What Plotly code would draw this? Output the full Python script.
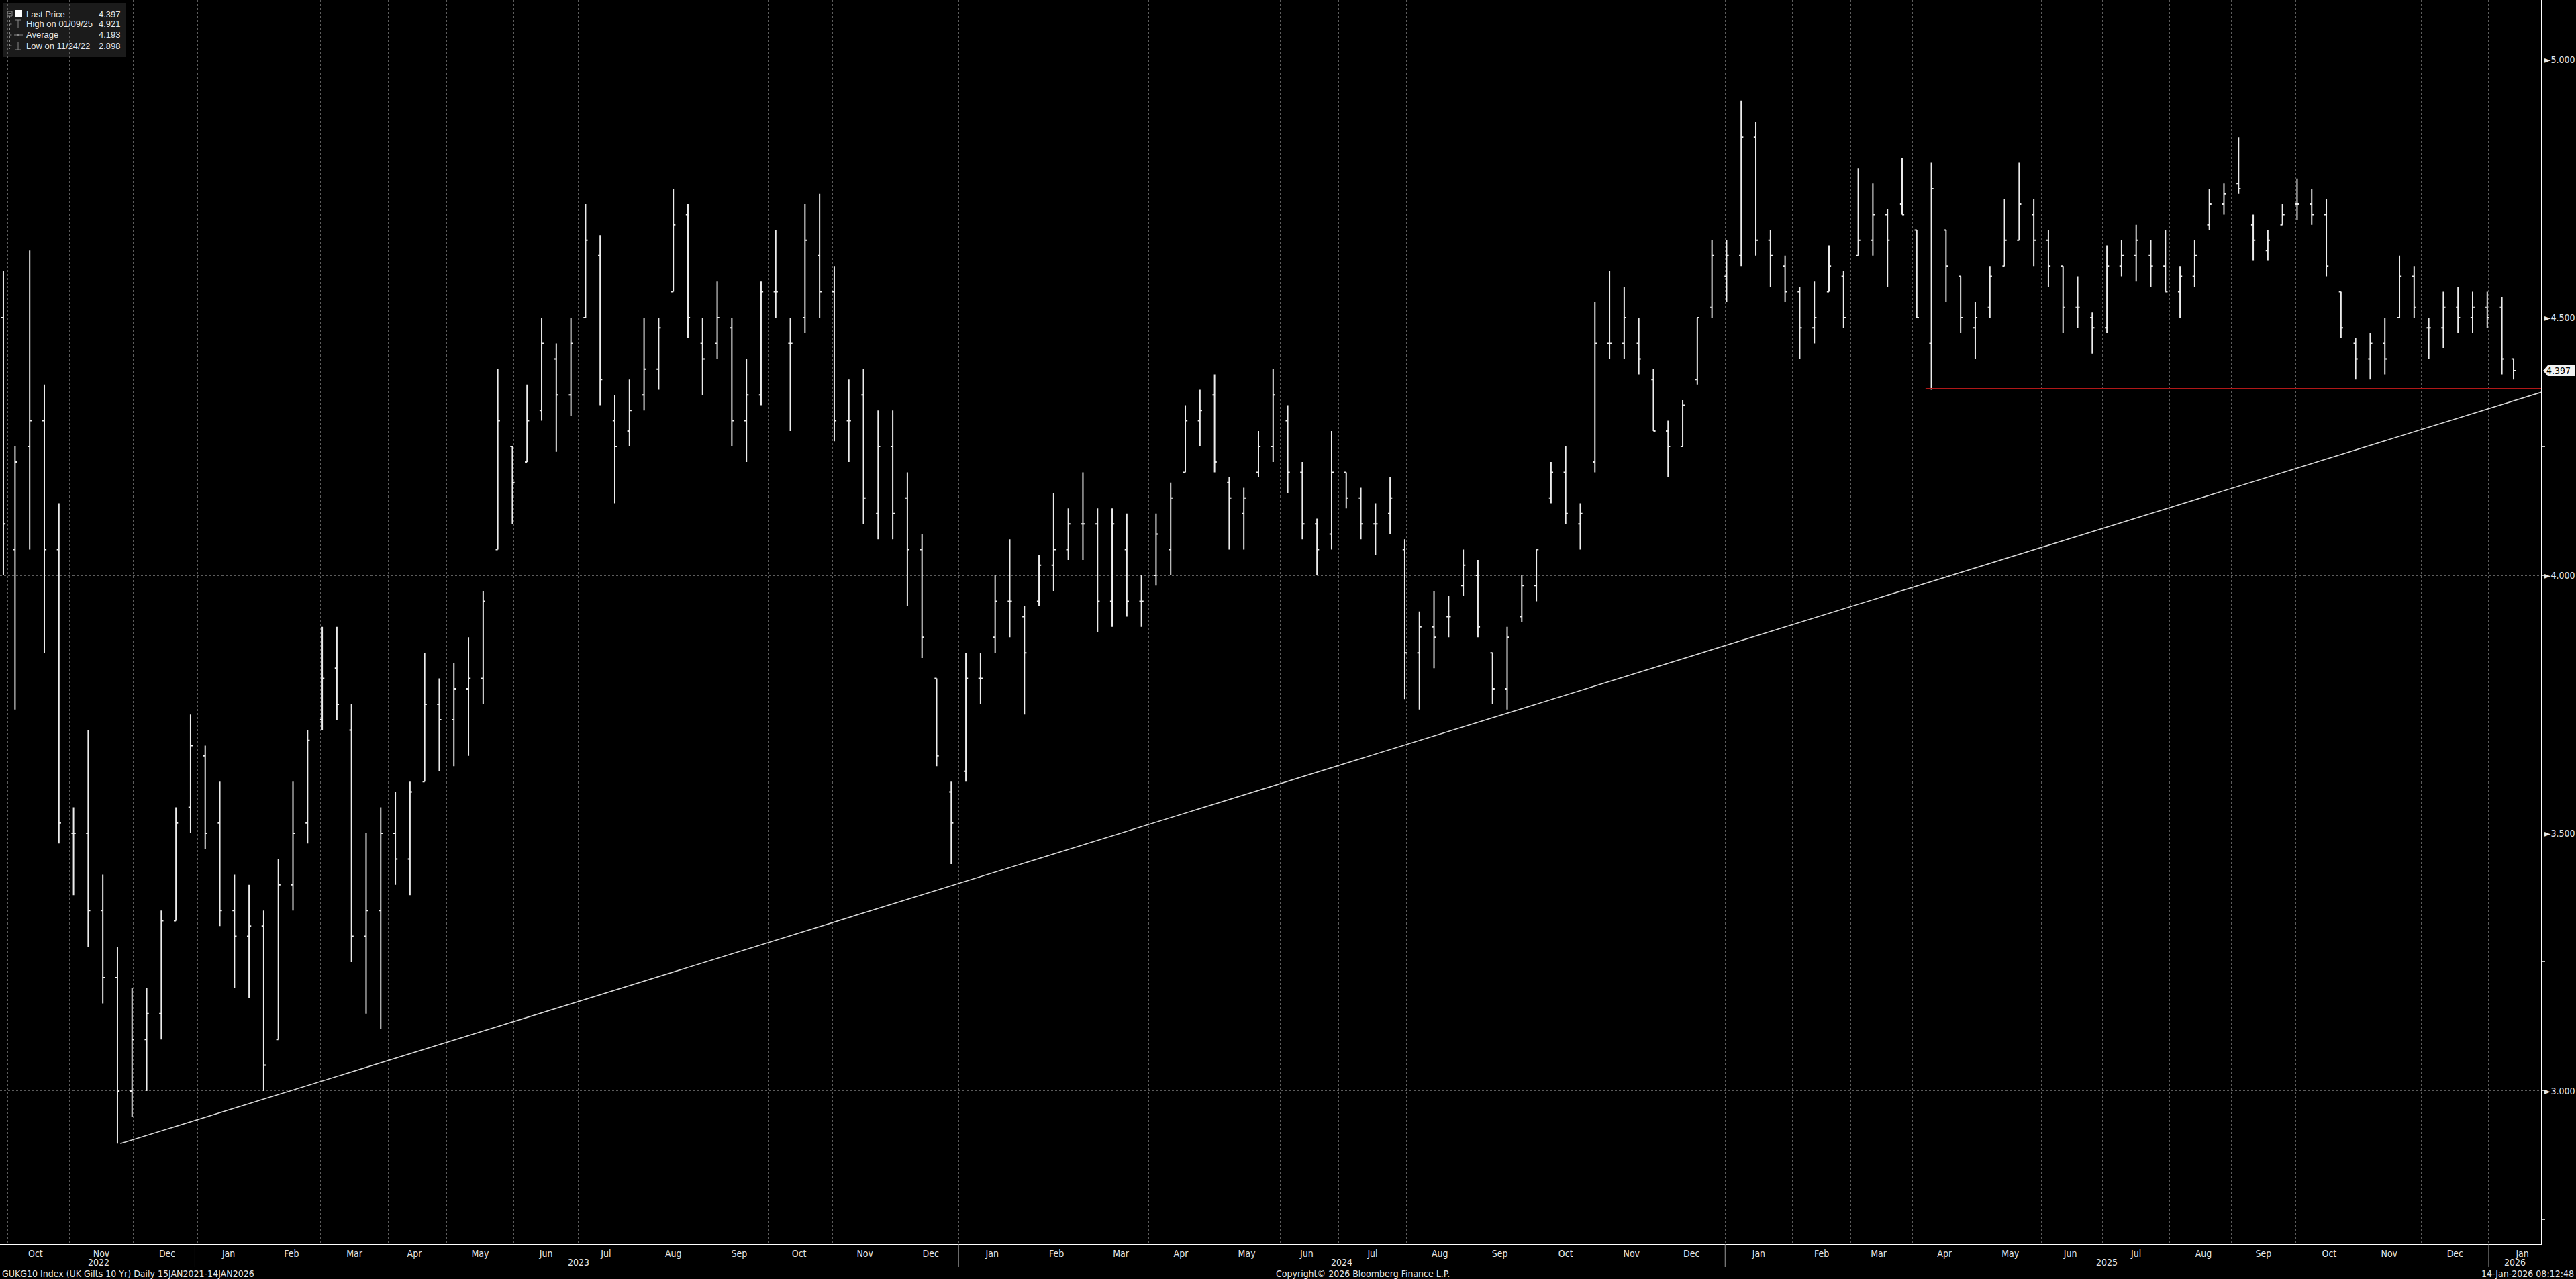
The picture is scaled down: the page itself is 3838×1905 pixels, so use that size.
import numpy as np
import pandas as pd
import plotly.graph_objects as go

# ---------------- data (weekly OHLC, GUKG10 yield %) ----------------
data_start = "2022-09-28"
data_end = "2026-01-14"
week_start = pd.date_range("2022-09-26", "2026-01-12", freq="W-MON")

opens = [4.50,4.05,4.25,4.30,4.05,3.50,3.50,3.35,3.22,3.00,
         3.10,3.15,3.33,3.55,3.65,3.52,3.35,3.30,3.32,3.10,
         3.40,3.52,3.72,3.82,3.70,3.30,3.35,3.50,3.45,3.60,
         3.75,3.72,3.78,3.80,4.05,4.25,4.22,4.32,4.42,4.35,
         4.50,4.62,4.30,4.28,4.35,4.40,4.55,4.70,4.45,4.45,
         4.48,4.30,4.35,4.55,4.45,4.50,4.62,4.55,4.30,4.35,
         4.12,4.25,4.15,4.05,3.80,3.58,3.62,3.80,3.88,3.95,
         3.92,3.95,4.02,4.05,4.10,4.10,3.95,4.05,3.95,4.00,
         4.05,4.20,4.30,4.35,4.18,4.12,4.20,4.25,4.30,4.20,
         4.10,4.08,4.20,4.15,4.10,4.12,4.05,3.85,3.90,3.92,
         3.98,4.00,3.85,3.78,3.92,3.98,4.15,4.20,4.10,4.22,
         4.45,4.45,4.45,4.38,4.28,4.25,4.38,4.52,4.58,4.62,
         4.85,4.65,4.60,4.55,4.48,4.55,4.58,4.62,4.65,4.70,
         4.72,4.67,4.45,4.67,4.58,4.48,4.52,4.60,4.65,4.70,
         4.65,4.60,4.52,4.50,4.48,4.60,4.62,4.62,4.60,4.55,
         4.58,4.68,4.72,4.76,4.68,4.63,4.68,4.72,4.72,4.70,
         4.55,4.45,4.42,4.45,4.50,4.58,4.48,4.48,4.52,4.50,
         4.52,4.52,4.42]
highs = [4.59,4.25,4.63,4.37,4.14,3.55,3.70,3.42,3.28,3.20,
         3.20,3.35,3.55,3.73,3.67,3.60,3.42,3.40,3.35,3.45,
         3.60,3.70,3.90,3.90,3.75,3.50,3.55,3.58,3.60,3.85,
         3.80,3.83,3.88,3.97,4.40,4.25,4.37,4.50,4.45,4.50,
         4.72,4.66,4.35,4.38,4.50,4.50,4.75,4.72,4.50,4.57,
         4.50,4.42,4.57,4.67,4.50,4.72,4.74,4.60,4.38,4.40,
         4.32,4.32,4.20,4.08,3.80,3.60,3.85,3.85,4.00,4.07,
         3.94,4.04,4.16,4.13,4.20,4.13,4.13,4.12,4.00,4.12,
         4.18,4.33,4.36,4.39,4.19,4.17,4.28,4.40,4.33,4.22,
         4.11,4.28,4.20,4.17,4.14,4.19,4.07,3.93,3.97,3.96,
         4.05,4.03,3.85,3.90,4.00,4.05,4.22,4.25,4.14,4.53,
         4.59,4.56,4.50,4.40,4.30,4.34,4.50,4.65,4.65,4.921,
         4.88,4.67,4.62,4.56,4.57,4.64,4.59,4.79,4.76,4.71,
         4.81,4.67,4.80,4.67,4.58,4.53,4.60,4.73,4.80,4.73,
         4.67,4.60,4.58,4.51,4.64,4.65,4.68,4.65,4.67,4.60,
         4.65,4.75,4.76,4.85,4.70,4.67,4.72,4.77,4.75,4.73,
         4.55,4.46,4.47,4.50,4.62,4.60,4.50,4.55,4.56,4.55,
         4.55,4.54,4.42]
lows = [4.00,3.74,4.05,3.85,3.48,3.38,3.28,3.17,2.898,2.95,
        3.00,3.10,3.33,3.50,3.47,3.32,3.20,3.18,3.00,3.10,
        3.35,3.48,3.70,3.72,3.25,3.15,3.12,3.40,3.38,3.60,
        3.62,3.63,3.65,3.75,4.05,4.10,4.22,4.30,4.24,4.31,
        4.50,4.33,4.14,4.25,4.32,4.36,4.55,4.46,4.35,4.42,
        4.25,4.22,4.33,4.50,4.28,4.47,4.50,4.26,4.22,4.10,
        4.07,4.07,3.94,3.84,3.63,3.44,3.60,3.75,3.85,3.88,
        3.73,3.94,3.97,4.03,4.03,3.89,3.90,3.92,3.90,3.98,
        4.00,4.20,4.25,4.20,4.05,4.05,4.19,4.22,4.16,4.07,
        4.00,4.05,4.13,4.07,4.04,4.08,3.76,3.74,3.82,3.88,
        3.96,3.88,3.75,3.74,3.91,3.95,4.14,4.10,4.05,4.20,
        4.42,4.42,4.39,4.28,4.19,4.25,4.37,4.50,4.53,4.60,
        4.62,4.56,4.53,4.42,4.45,4.55,4.48,4.62,4.62,4.56,
        4.70,4.50,4.36,4.53,4.47,4.42,4.50,4.60,4.65,4.60,
        4.56,4.47,4.48,4.43,4.47,4.58,4.57,4.56,4.55,4.50,
        4.56,4.67,4.70,4.74,4.61,4.61,4.68,4.69,4.68,4.58,
        4.46,4.38,4.38,4.39,4.50,4.50,4.42,4.44,4.47,4.47,
        4.48,4.39,4.38]
closes = [4.10,4.22,4.30,4.05,3.52,3.50,3.35,3.22,3.00,3.10,
          3.15,3.33,3.52,3.67,3.50,3.35,3.30,3.32,3.05,3.40,
          3.50,3.68,3.80,3.75,3.30,3.35,3.50,3.45,3.58,3.75,
          3.72,3.78,3.80,3.95,4.30,4.18,4.30,4.45,4.35,4.45,
          4.65,4.38,4.25,4.32,4.40,4.48,4.68,4.50,4.42,4.50,
          4.30,4.35,4.55,4.55,4.45,4.65,4.55,4.30,4.30,4.15,
          4.25,4.12,4.05,3.88,3.65,3.52,3.80,3.80,3.95,3.95,
          3.85,4.02,4.05,4.10,4.10,3.95,4.10,3.95,3.95,4.08,
          4.15,4.30,4.32,4.22,4.15,4.15,4.25,4.35,4.20,4.10,
          4.05,4.20,4.15,4.10,4.10,4.15,3.85,3.90,3.88,3.92,
          4.02,3.90,3.78,3.88,3.98,4.05,4.20,4.12,4.12,4.45,
          4.45,4.50,4.42,4.28,4.25,4.33,4.50,4.62,4.62,4.85,
          4.65,4.62,4.55,4.48,4.50,4.60,4.50,4.65,4.70,4.65,
          4.70,4.50,4.75,4.60,4.50,4.50,4.58,4.65,4.72,4.65,
          4.60,4.52,4.52,4.48,4.60,4.62,4.65,4.60,4.55,4.58,
          4.62,4.72,4.74,4.75,4.65,4.65,4.70,4.72,4.70,4.60,
          4.48,4.42,4.45,4.42,4.58,4.52,4.48,4.52,4.50,4.52,
          4.50,4.42,4.397]

# legend values
last_price = 4.397
high_label, high_value = "High on 01/09/25", 4.921
avg_value = 4.193
low_label, low_value = "Low on 11/24/22", 2.898

# trend line (from 11/24/22 low to the right edge) and support line (from 04/07/25 low)
trend_dates = ["2022-11-24 12:00", "2026-01-26 21:36"]
trend_values = [2.898, 4.355]
support_dates = ["2025-04-07 12:00", "2026-01-26 21:36"]
support_values = [4.362, 4.362]

y_ticks = [3.0, 3.5, 4.0, 4.5, 5.0]
x_range = ["2022-09-28 08:40", "2026-01-26 21:36"]
y_range = [2.7031, 5.1159]
years = [2022, 2023, 2024, 2025, 2026]

# ---------------- helpers ----------------
W, H = 3838, 1905
ML, MR, MT, MB = 0, 52, 0, 52
PW, PH = W - ML - MR, H - MT - MB


def px(x):
    return x / PW


def py(y):
    return 1 - y / PH


origin = np.datetime64("2020-01-06")


def bt(ts):
    ts = pd.Timestamp(ts)
    d = np.datetime64(ts.date())
    n = float(np.busday_count(origin, d))
    if np.is_busday(d):
        n += (ts - ts.normalize()) / pd.Timedelta(days=1)
    return n


def from_bt(v):
    n = int(np.floor(v))
    d = np.busday_offset(origin, n, roll="forward")
    return pd.Timestamp(d) + pd.Timedelta(days=v - n)


# bar centre: middle of the traded days of each week
ds, de = pd.Timestamp(data_start), pd.Timestamp(data_end) + pd.Timedelta(days=1)
bar_x = []
for w in week_start:
    a = max(w, ds)
    b = min(w + pd.Timedelta(days=5), de)
    bar_x.append(from_bt((bt(a) + bt(b)) / 2))

NARROW = "Liberation Sans Narrow, DejaVu Sans Condensed, Arial Narrow, sans-serif"
LEGF = "Liberation Sans, Arial, sans-serif"
TXT = "#e6e6e6"

fig = go.Figure()
fig.add_trace(go.Ohlc(
    x=bar_x, open=opens, high=highs, low=lows, close=closes,
    increasing=dict(line=dict(color="#ececec", width=2)),
    decreasing=dict(line=dict(color="#ececec", width=2)),
    tickwidth=0.12, showlegend=False, hoverinfo="skip"))

fig.add_trace(go.Scatter(x=trend_dates, y=trend_values, mode="lines",
                         line=dict(color="#d8d8d8", width=1.6),
                         showlegend=False, hoverinfo="skip"))
fig.add_trace(go.Scatter(x=support_dates, y=support_values, mode="lines",
                         line=dict(color="#b01818", width=2),
                         showlegend=False, hoverinfo="skip"))

shapes = []
annotations = []

# year separators and labels below the axis
rs, re_ = pd.Timestamp(x_range[0]), pd.Timestamp(x_range[1])
for yv in years:
    a = max(pd.Timestamp(f"{yv}-01-01"), rs)
    b = min(pd.Timestamp(f"{yv + 1}-01-01"), re_)
    if a > rs:
        shapes.append(dict(type="line", xref="x", yref="paper", x0=a, x1=a,
                           y0=py(PH), y1=py(PH + 34),
                           line=dict(color="#9a9a9a", width=1)))
    mid = from_bt((bt(a) + bt(b)) / 2)
    annotations.append(dict(x=mid, y=py(1880), xref="x", yref="paper",
                            text=str(yv), showarrow=False,
                            font=dict(family=NARROW, size=14, color=TXT),
                            xanchor="center", yanchor="middle"))

# footer texts
annotations += [
    dict(x=px(1), y=py(1897), xref="paper", yref="paper", showarrow=False,
         text="GUKG10 Index (UK Gilts 10 Yr) Daily 15JAN2021-14JAN2026",
         font=dict(family=NARROW, size=14, color=TXT), xanchor="left", yanchor="middle"),
    dict(x=px(2030), y=py(1897), xref="paper", yref="paper", showarrow=False,
         text="Copyright© 2026 Bloomberg Finance L.P.",
         font=dict(family=NARROW, size=14, color=TXT), xanchor="center", yanchor="middle"),
    dict(x=px(3837), y=py(1897), xref="paper", yref="paper", showarrow=False,
         text="14-Jan-2026 08:12:48",
         font=dict(family=NARROW, size=14, color=TXT), xanchor="right", yanchor="middle"),
]

# legend box (top-left)
shapes.append(dict(type="rect", xref="paper", yref="paper", layer="below",
                   x0=px(4), x1=px(187), y0=py(4), y1=py(85),
                   fillcolor="#1b1b1b", line=dict(width=0)))
rows_y = [21, 36, 52, 68]
labels = ["Last Price", high_label, "Average", low_label]
values = [last_price, high_value, avg_value, low_value]
for ry, lab, val in zip(rows_y, labels, values):
    annotations.append(dict(x=px(37), y=py(ry), xref="paper", yref="paper", showarrow=False,
                            text=lab, xanchor="left", yanchor="middle",
                            font=dict(family=LEGF, size=13, color=TXT)))
    annotations.append(dict(x=px(182), y=py(ry), xref="paper", yref="paper", showarrow=False,
                            text=f"{val:.3f}", xanchor="right", yanchor="middle",
                            font=dict(family=LEGF, size=13, color=TXT)))
# tree lines and glyphs
g = dict(color="#8a8a8a", width=1)
shapes += [
    dict(type="rect", xref="paper", yref="paper", x0=px(11), x1=px(18), y0=py(17), y1=py(24),
         line=g, fillcolor="rgba(0,0,0,0)"),
    dict(type="line", xref="paper", yref="paper", x0=px(12.5), x1=px(16.5), y0=py(20.5), y1=py(20.5), line=g),
    dict(type="line", xref="paper", yref="paper", x0=px(14.5), x1=px(14.5), y0=py(24), y1=py(73),
         line=dict(color="#8a8a8a", width=1, dash="dot")),
    dict(type="rect", xref="paper", yref="paper", x0=px(22), x1=px(33), y0=py(15), y1=py(26),
         fillcolor="#ffffff", line=dict(width=0)),
    # high glyph
    dict(type="line", xref="paper", yref="paper", x0=px(23), x1=px(31), y0=py(30), y1=py(30), line=g),
    dict(type="line", xref="paper", yref="paper", x0=px(27), x1=px(27), y0=py(30), y1=py(42), line=g),
    # average glyph
    dict(type="line", xref="paper", yref="paper", x0=px(21), x1=px(34), y0=py(52), y1=py(52), line=g),
    dict(type="circle", xref="paper", yref="paper", x0=px(25.5), x1=px(28.5), y0=py(50.5), y1=py(53.5),
         line=g, fillcolor="#8a8a8a"),
    # low glyph
    dict(type="line", xref="paper", yref="paper", x0=px(27), x1=px(27), y0=py(62), y1=py(74), line=g),
    dict(type="line", xref="paper", yref="paper", x0=px(23), x1=px(31), y0=py(74), y1=py(74), line=g),
]
for ry in rows_y[1:]:
    shapes.append(dict(type="line", xref="paper", yref="paper", x0=px(14.5), x1=px(19),
                       y0=py(ry), y1=py(ry), line=dict(color="#8a8a8a", width=1, dash="dot")))

# last-price tag on the right axis
yl = py(89 + (5 - last_price) * 768)
h8 = 8 / PH
path = (f"M {px(3789)} {yl} L {px(3796)} {yl + h8} L {px(3836)} {yl + h8} "
        f"L {px(3836)} {yl - h8} L {px(3796)} {yl - h8} Z")
shapes.append(dict(type="path", xref="paper", yref="paper", path=path,
                   fillcolor="#f2f2f2", line=dict(width=0)))
annotations.append(dict(x=px(3812), y=last_price, xref="paper", yref="y", showarrow=False,
                        text=f"{last_price:.3f}", xanchor="center", yanchor="middle",
                        font=dict(family=NARROW, size=14, color="#000000")))

fig.update_layout(
    width=W, height=H,
    margin=dict(l=ML, r=MR, t=MT, b=MB, pad=0),
    paper_bgcolor="#000000", plot_bgcolor="#000000",
    showlegend=False,
    shapes=shapes, annotations=annotations,
    xaxis=dict(
        type="date", range=x_range,
        rangebreaks=[dict(bounds=["sat", "mon"])],
        rangeslider=dict(visible=False),
        tick0="2022-10-01", dtick="M1", tickformat="%b", ticklabelmode="period",
        ticks="", tickfont=dict(family=NARROW, size=14, color=TXT),
        showgrid=True, gridcolor="#5c5c5c", griddash="dot", gridwidth=1,
        showline=True, linecolor="#ffffff", linewidth=2,
        zeroline=False, fixedrange=True),
    yaxis=dict(
        side="right", range=y_range,
        tickmode="array", tickvals=y_ticks,
        ticktext=[f"►{v:.3f}" for v in y_ticks],
        ticks="", tickfont=dict(family=NARROW, size=14, color=TXT),
        showgrid=True, gridcolor="#5c5c5c", griddash="dot", gridwidth=1,
        minor=dict(tickmode="linear", tick0=2.75, dtick=0.25, ticks="outside",
                   ticklen=4, tickcolor="#bbbbbb", showgrid=False),
        showline=True, linecolor="#ffffff", linewidth=2,
        zeroline=False, fixedrange=True),
)

fig.write_html("out.html", config={"displayModeBar": False},
               post_script="document.body.style.margin='0';document.body.style.overflow='hidden';")
